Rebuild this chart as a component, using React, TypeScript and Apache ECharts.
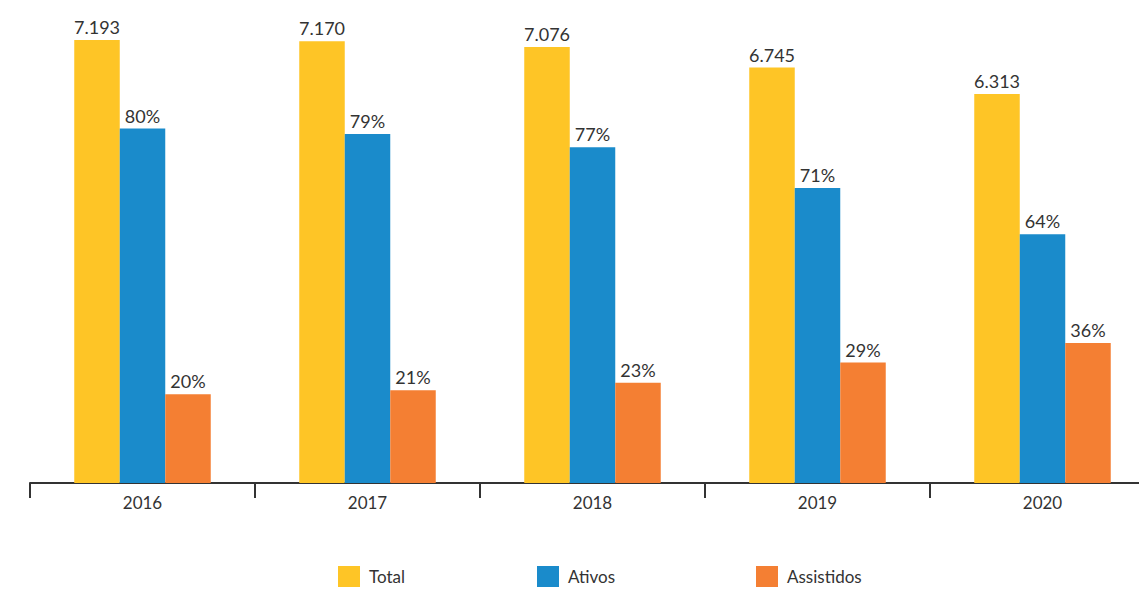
import React, { useEffect, useRef } from "react";
import * as echarts from "echarts";

const years = ["2016", "2017", "2018", "2019", "2020"];
const totalValues = [7193, 7170, 7076, 6745, 6313];
const ativosValues = [5754, 5664, 5449, 4789, 4040];
const assistidosValues = [1439, 1506, 1627, 1956, 2273];
const ativosPct = ["80%", "79%", "77%", "71%", "64%"];
const assistidosPct = ["20%", "21%", "23%", "29%", "36%"];

const FONT = "Lato, 'Open Sans', sans-serif";
const TEXT = "#333333";

function fmtThousands(v: number): string {
  const s = String(Math.round(v));
  return s.replace(/\B(?=(\d{3})+(?!\d))/g, ".");
}

export default function App() {
  const ref = useRef<HTMLDivElement>(null);
  useEffect(() => {
    if (!ref.current) return;
    const chart = echarts.init(ref.current, undefined, { renderer: "svg" });
    const labelBase = {
      show: true,
      position: "top" as const,
      color: TEXT,
      fontSize: 18,
      fontFamily: FONT,
      distance: 4,
    };
    const legendCommon = {
      top: 566,
      padding: 0,
      itemWidth: 22,
      itemHeight: 21,
      itemGap: 0,
      icon: "rect",
      textStyle: { color: TEXT, fontSize: 17, fontFamily: FONT, padding: [0, 0, 0, 4] },
      selectedMode: false,
    };
    chart.setOption({
      animation: false,
      backgroundColor: "#ffffff",
      legend: [
        { ...legendCommon, left: 338, data: ["Total"] },
        { ...legendCommon, left: 537, data: ["Ativos"] },
        { ...legendCommon, left: 756, data: ["Assistidos"] },
      ],
      grid: { left: 30, top: 21, width: 1125, height: 462 },
      xAxis: {
        type: "category",
        data: years,
        axisLine: { show: true, lineStyle: { color: "#333333", width: 2 } },
        axisTick: { show: true, length: 15, lineStyle: { color: "#333333", width: 2 } },
        axisLabel: { color: TEXT, fontSize: 17, fontFamily: FONT, margin: 11 },
      },
      yAxis: {
        type: "value",
        min: 0,
        max: 7500,
        show: false,
        splitLine: { show: false },
      },
      series: [
        {
          name: "Total",
          type: "bar",
          data: totalValues,
          barWidth: 45.5,
          barGap: "0%",
          itemStyle: { color: "#FEC526" },
          label: { ...labelBase, formatter: (p: any) => fmtThousands(p.value) },
        },
        {
          name: "Ativos",
          type: "bar",
          data: ativosValues,
          barWidth: 45.5,
          barGap: "0%",
          itemStyle: { color: "#1A8BCB" },
          label: { ...labelBase, formatter: (p: any) => ativosPct[p.dataIndex] },
        },
        {
          name: "Assistidos",
          type: "bar",
          data: assistidosValues,
          barWidth: 45.5,
          barGap: "0%",
          itemStyle: { color: "#F47F33" },
          label: { ...labelBase, formatter: (p: any) => assistidosPct[p.dataIndex] },
        },
      ],
    });
    return () => chart.dispose();
  }, []);
  return (
    <div style={{ position: "absolute", left: 0, top: 0, width: 1139, height: 589, overflow: "hidden", background: "#fff" }}>
      <div ref={ref} style={{ width: 1170, height: 589 }} />
    </div>
  );
}
